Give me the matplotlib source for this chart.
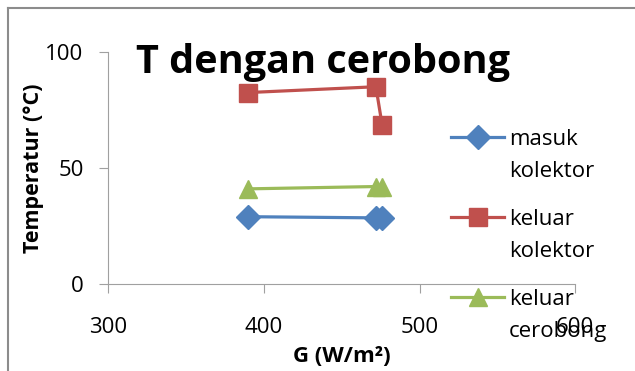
import matplotlib.pyplot as plt
from matplotlib.lines import Line2D

plt.rcParams['font.family'] = ['Open Sans', 'DejaVu Sans']

# data
g = [390, 472, 476]
masuk_kolektor = [29, 28.5, 28.5]
keluar_kolektor = [82.5, 85, 68.5]
keluar_cerobong = [41, 42, 42]
labels = [('masuk', 'kolektor'), ('keluar', 'kolektor'), ('keluar', 'cerobong')]

blue = '#4F81BD'
red = '#C0504D'
green = '#9BBB59'
grey = '#A0A0A0'

W, H = 635, 371
fig = plt.figure(figsize=(W / 100, H / 100), dpi=100)
ax = fig.add_axes([0.170, 0.2345, 0.736, 0.6255])

ax.plot(g, masuk_kolektor, color=blue, lw=2.3, marker='D', ms=12, label=labels[0][0])
ax.plot(g, keluar_kolektor, color=red, lw=2.3, marker='s', ms=13.5, label=labels[1][0])
ax.plot(g, keluar_cerobong, color=green, lw=2.3, marker='^', ms=13, label=labels[2][0])

ax.set_xlim(300, 600)
ax.set_ylim(0, 100)
ax.set_xticks([300, 400, 500, 600])
ax.set_yticks([0, 50, 100])
for s in ['top', 'right']:
    ax.spines[s].set_visible(False)
for s in ['left', 'bottom']:
    ax.spines[s].set_color(grey)
ax.tick_params(axis='y', length=6.5, color=grey, labelsize=16, pad=11)
ax.tick_params(axis='x', length=6.5, color=grey, labelsize=16, pad=17)

ax.set_ylabel('Temperatur (\u00b0C)', fontsize=15.5, fontweight='bold', labelpad=1)
ax.set_xlabel('G (W/m\u00b2)', fontsize=16, fontweight='bold', labelpad=6)

fig.text(0.509, 0.832, 'T dengan cerobong', fontsize=28.5, fontweight='bold',
         ha='center', va='center')

leg = ax.legend(loc='upper left', bbox_to_anchor=(451 / W, 0.652), bbox_transform=fig.transFigure,
                frameon=False, fontsize=16, handlelength=2.4, handletextpad=0.2,
                labelspacing=2.65, borderpad=0, borderaxespad=0)
leg.set_zorder(5)

# second line of each legend label, set one line below the first
fig.canvas.draw()
for t, (_, second) in zip(leg.get_texts(), labels):
    bb = t.get_window_extent()
    fig.text(bb.x0 / W, ((bb.y0 + bb.y1) / 2 - 32) / H, second, fontsize=16,
             ha='left', va='center', zorder=5)

# chart frame (gray border, top and left visible)
fig.add_artist(Line2D([8 / W, 1], [1 - 8 / H, 1 - 8 / H], color='#8C8C8C', lw=1.5))
fig.add_artist(Line2D([8 / W, 8 / W], [0, 1 - 8 / H], color='#8C8C8C', lw=1.5))

fig.savefig('out.png', dpi=100)
